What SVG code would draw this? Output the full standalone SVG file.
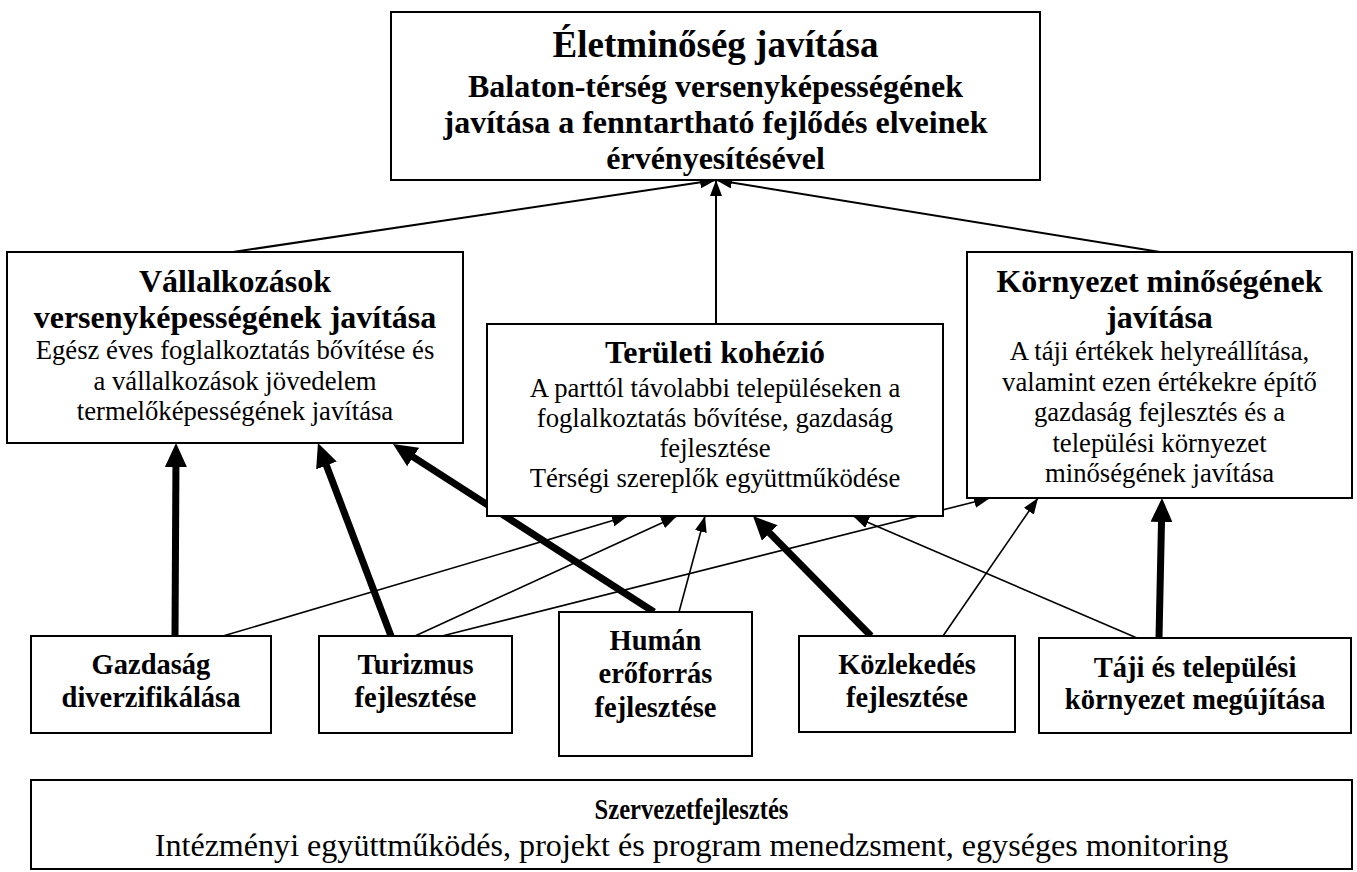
<svg xmlns="http://www.w3.org/2000/svg" width="1357" height="872" viewBox="0 0 1357 872">
<style>
rect.box{fill:#fff;stroke:#000;stroke-width:2}
text{font-family:"Liberation Serif","Times New Roman",serif;fill:#000;text-anchor:middle}
.h1{font-size:37px;font-weight:bold}
.h2{font-size:32px;font-weight:bold}
.b{font-size:26.7px}
.n{font-size:28.5px;font-weight:bold}
.s1{font-size:30px;font-weight:bold}
.s2{font-size:32.1px}
.thin{stroke:#000;stroke-width:1.6;fill:none;marker-end:url(#ah)}
.mid{stroke:#000;stroke-width:2;fill:none;marker-end:url(#ah)}
.thick{stroke:#000;stroke-width:7;fill:none;marker-end:url(#ahT)}
</style>
<defs>
<marker id="ah" markerUnits="userSpaceOnUse" markerWidth="16" markerHeight="12" refX="16" refY="6" orient="auto">
<path d="M0,0 L16,6 L0,12 z" fill="#000"/>
</marker>
<marker id="ahT" markerUnits="userSpaceOnUse" markerWidth="24" markerHeight="22" refX="14" refY="11" orient="auto">
<path d="M0,0 L24,11 L0,22 z" fill="#000"/>
</marker>
</defs>
<rect width="1357" height="872" fill="#fff"/>

<g id="connectors">
<line class="mid" x1="233" y1="252" x2="716" y2="180"/>
<line class="mid" x1="716" y1="324" x2="716" y2="180"/>
<line class="mid" x1="1160" y1="252" x2="716" y2="180"/>
<line class="thick" x1="175" y1="636" x2="176" y2="453"/>
<line class="thick" x1="391" y1="636" x2="321.5" y2="452.4"/>
<line class="thick" x1="654" y1="612" x2="401.4" y2="449.4"/>
<line class="thick" x1="871" y1="636" x2="760" y2="523.1"/>
<line class="thick" x1="1159" y1="638" x2="1161.8" y2="508"/>
<line class="thin" x1="223" y1="636" x2="628" y2="516"/>
<line class="thin" x1="415" y1="636" x2="677" y2="516"/>
<line class="thin" x1="679" y1="612" x2="705" y2="516"/>
<line class="thin" x1="1137" y1="638" x2="853" y2="516"/>
<line class="thin" x1="442" y1="636" x2="990" y2="498"/>
<line class="thin" x1="943" y1="636" x2="1038" y2="498"/>
</g>

<g id="eletminoseg">
<rect class="box" x="391" y="12" width="649" height="168"/>
<text class="h1" x="715.5" y="57">Életminőség javítása</text>
<text class="h2" x="715.5" y="97">Balaton-térség versenyképességének</text>
<text class="h2" x="715.5" y="133">javítása a fenntartható fejlődés elveinek</text>
<text class="h2" x="715.5" y="169">érvényesítésével</text>
</g>

<g id="vallalkozasok">
<rect class="box" x="7" y="252" width="456" height="191"/>
<text class="h2" x="235" y="292">Vállalkozások</text>
<text class="h2" x="235" y="328">versenyképességének javítása</text>
<text class="b" x="235" y="359">Egész éves foglalkoztatás bővítése és</text>
<text class="b" x="235" y="390">a vállalkozások jövedelem</text>
<text class="b" x="235" y="420">termelőképességének javítása</text>
</g>

<g id="teruleti">
<rect class="box" x="487" y="324" width="456" height="192"/>
<text class="h2" x="715" y="363">Területi kohézió</text>
<text class="b" x="715" y="397">A parttól távolabbi településeken a</text>
<text class="b" x="715" y="427">foglalkoztatás bővítése, gazdaság</text>
<text class="b" x="715" y="457">fejlesztése</text>
<text class="b" x="715" y="487">Térségi szereplők együttműködése</text>
</g>

<g id="kornyezet">
<rect class="box" x="967" y="252" width="385" height="246"/>
<text class="h2" x="1159.5" y="292">Környezet minőségének</text>
<text class="h2" x="1159.5" y="328">javítása</text>
<text class="b" x="1159.5" y="360">A táji értékek helyreállítása,</text>
<text class="b" x="1159.5" y="390.5">valamint ezen értékekre építő</text>
<text class="b" x="1159.5" y="421">gazdaság fejlesztés és a</text>
<text class="b" x="1159.5" y="451.5">települési környezet</text>
<text class="b" x="1159.5" y="482">minőségének javítása</text>
</g>

<g id="gazdasag">
<rect class="box" x="31" y="636" width="240" height="97"/>
<text class="n" x="151" y="674">Gazdaság</text>
<text class="n" x="151" y="707">diverzifikálása</text>
</g>

<g id="turizmus">
<rect class="box" x="319" y="636" width="193" height="97"/>
<text class="n" x="415.5" y="674">Turizmus</text>
<text class="n" x="415.5" y="707">fejlesztése</text>
</g>

<g id="human">
<rect class="box" x="559" y="612" width="193" height="144"/>
<text class="n" x="655.5" y="650">Humán</text>
<text class="n" x="655.5" y="683">erőforrás</text>
<text class="n" x="655.5" y="717">fejlesztése</text>
</g>

<g id="kozlekedes">
<rect class="box" x="799" y="636" width="216" height="96"/>
<text class="n" x="907" y="674">Közlekedés</text>
<text class="n" x="907" y="707">fejlesztése</text>
</g>

<g id="taji">
<rect class="box" x="1039" y="638" width="312" height="95"/>
<text class="n" x="1195" y="677">Táji és települési</text>
<text class="n" x="1195" y="709">környezet megújítása</text>
</g>

<g id="szervezet">
<rect class="box" x="31" y="780" width="1321" height="89"/>
<text class="s1" transform="translate(691.5 819) scale(0.82 1)" x="0" y="0">Szervezetfejlesztés</text>
<text class="s2" x="691.5" y="856">Intézményi együttműködés, projekt és program menedzsment, egységes monitoring</text>
</g>
</svg>
